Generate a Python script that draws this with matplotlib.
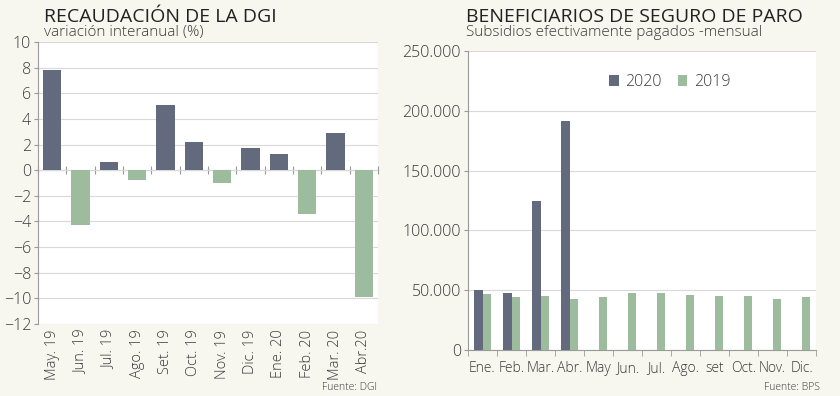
import matplotlib
matplotlib.use("Agg")
import matplotlib.pyplot as plt
import numpy as np
from matplotlib.ticker import FuncFormatter, FixedLocator

plt.rcParams['font.family'] = ['Open Sans', 'DejaVu Sans']
plt.rcParams['font.weight'] = 'light'

# Left chart data: DGI revenue, year-on-year change (%)
dgi_months = ["May. 19", "Jun. 19", "Jul. 19", "Ago. 19", "Set. 19", "Oct. 19",
              "Nov. 19", "Dic. 19", "Ene. 20", "Feb. 20", "Mar. 20", "Abr.20"]
dgi_values = [7.8, -4.25, 0.6, -0.8, 5.1, 2.2, -1.0, 1.7, 1.3, -3.4, 2.9, -9.9]

# Right chart data: unemployment insurance beneficiaries
bps_months = ["Ene.", "Feb.", "Mar.", "Abr.", "May", "Jun.", "Jul.", "Ago.",
              "set", "Oct.", "Nov.", "Dic."]
bps_2020 = [50000, 48000, 124400, 191300]
bps_2019 = [47200, 44200, 45300, 43000, 44700, 47700, 47500, 46400,
            44900, 45300, 42800, 44500]

dark = "#646a7e"
green = "#9dbb9d"
bg = "#f7f6ef"
grid_c = "#d9d9d9"
axis_c = "#9a9a9a"
text_c = "#3a3a3a"

fig = plt.figure(figsize=(8.4, 3.96), dpi=100, facecolor=bg)

# ---------------- left chart ----------------
ax1 = fig.add_axes([38/840, 72/396, 340/840, 282/396])
x1 = np.arange(len(dgi_values))
cols = [dark if v >= 0 else green for v in dgi_values]
ax1.bar(x1, dgi_values, width=0.65, color=cols, zorder=3)
ax1.set_xlim(-0.5, len(dgi_values) - 0.5)
ax1.set_ylim(-12, 10)
ax1.set_yticks(np.arange(-12, 11, 2))
ax1.yaxis.grid(True, color=grid_c, linewidth=0.8, zorder=0)
ax1.set_xticks(x1)
ax1.set_xticklabels(dgi_months, rotation=90, fontsize=10.5, color=text_c)
ax1.tick_params(axis='x', length=0, pad=4)
ax1.tick_params(axis='y', length=3, color=axis_c, labelsize=11.5, labelcolor=text_c, pad=2)
for s in ["top", "right", "bottom"]:
    ax1.spines[s].set_visible(False)
ax1.spines["left"].set_color(axis_c)

# zero line with category boundary ticks
zero_ax = ax1.secondary_xaxis(12/22)
zero_ax.set_xticks(np.arange(-0.5, len(dgi_values), 1.0))
zero_ax.tick_params(direction='inout', length=6, color=axis_c, labelbottom=False, labeltop=False)
zero_ax.spines["bottom"].set_color(axis_c)
zero_ax.spines["top"].set_color(axis_c)

fig.text(44/840, 1 - 17/396, "RECAUDACIÓN DE LA DGI", fontsize=14, color="#222222",
         fontweight="normal", va="center", ha="left")
fig.text(44/840, 1 - 32/396, "variación interanual (%)", fontsize=11, color=text_c,
         va="center", ha="left")
fig.text(377/840, 1 - 388/396, "Fuente: DGI", fontsize=7.5, color=text_c,
         va="center", ha="right")

# ---------------- right chart ----------------
ax2 = fig.add_axes([468/840, 45.7/396, 348/840, 299.6/396])
x2 = np.arange(len(bps_months))
w = 0.29
ax2.bar(x2[:len(bps_2020)] - w/2, bps_2020, width=w, color=dark, label="2020", zorder=3)
ax2.bar(x2 + w/2, bps_2019, width=w, color=green, label="2019", zorder=3)
ax2.set_xlim(-0.5, len(bps_months) - 0.5)
ax2.set_ylim(0, 250000)
ax2.set_yticks(np.arange(0, 250001, 50000))
ax2.yaxis.set_major_formatter(FuncFormatter(lambda v, p: f"{int(v):,}".replace(",", ".")))
ax2.yaxis.grid(True, color=grid_c, linewidth=0.8, zorder=0)
ax2.set_xticks(x2)
ax2.set_xticklabels(bps_months, fontsize=10, color=text_c)
ax2.xaxis.set_minor_locator(FixedLocator(np.arange(-0.5, len(bps_months), 1.0)))
ax2.tick_params(axis='x', which='major', length=0, pad=8)
ax2.tick_params(axis='x', which='minor', length=4, color=axis_c)
ax2.tick_params(axis='y', length=3, color=axis_c, labelsize=11.5, labelcolor=text_c, pad=2)
for s in ["top", "right"]:
    ax2.spines[s].set_visible(False)
ax2.spines["left"].set_color(axis_c)
ax2.spines["bottom"].set_color(axis_c)
ax2.legend(loc="upper center", bbox_to_anchor=(0.58, 0.97), ncol=2, frameon=False,
           fontsize=11.5, handlelength=0.6, handleheight=0.6, handletextpad=0.4,
           columnspacing=1.0, labelcolor=text_c)

fig.text(466/840, 1 - 17/396, "BENEFICIARIOS DE SEGURO DE PARO", fontsize=14,
         color="#222222", fontweight="normal", va="center", ha="left")
fig.text(466/840, 1 - 32/396, "Subsidios efectivamente pagados -mensual", fontsize=11,
         color=text_c, va="center", ha="left")
fig.text(820/840, 1 - 388/396, "Fuente: BPS", fontsize=7.5, color=text_c,
         va="center", ha="right")

fig.savefig("out.png", dpi=100, facecolor=bg)
